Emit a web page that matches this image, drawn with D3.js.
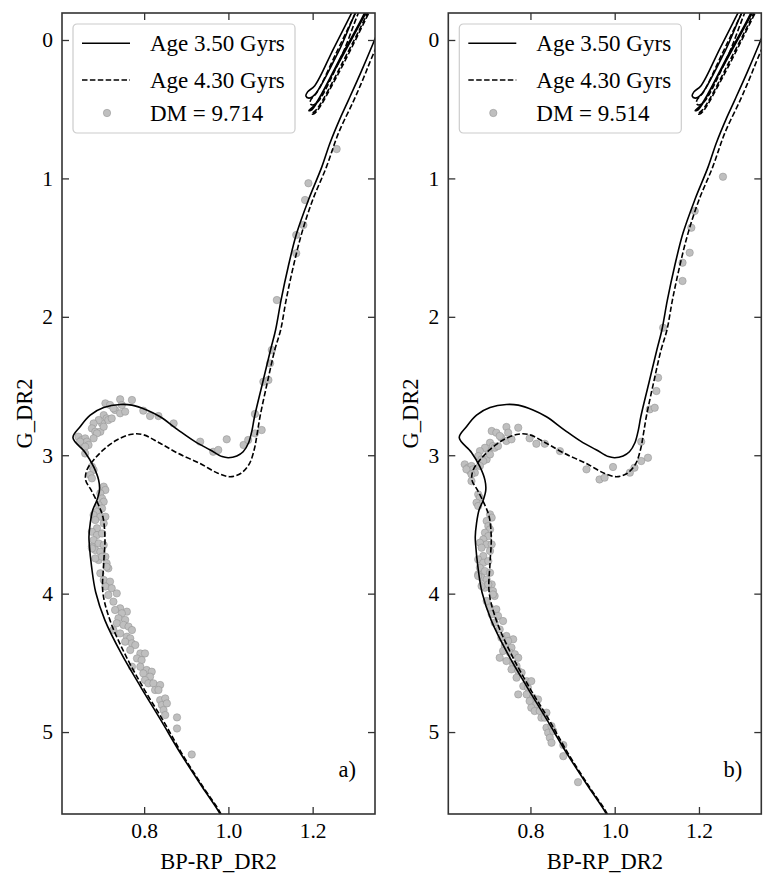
<!DOCTYPE html>
<html>
<head>
<meta charset="utf-8">
<script src="https://cdn.jsdelivr.net/npm/d3@7/dist/d3.min.js"></script>
<style>
body { margin: 0; background: #fff; }
text { font-family: "Liberation Serif", "Times New Roman", serif; fill: #000; }
</style>
</head>
<body>
<svg id="fig" width="775" height="887"></svg>
<script>
// isochrones, [BP-RP, G] in absolute magnitudes
var iso350 = [[0.995,5.70],[0.980,5.59],[0.938,5.397],[0.887,5.157],[0.840,4.916],[0.792,4.675],[0.746,4.434],[0.707,4.193],[0.685,3.99],
  [0.675,3.80],[0.670,3.65],[0.669,3.589],[0.672,3.492],[0.678,3.396],[0.688,3.324],[0.694,3.251],[0.692,3.18],[0.680,3.083],[0.660,2.98],
  [0.631,2.873],[0.648,2.794],[0.672,2.710],[0.704,2.656],[0.743,2.633],[0.771,2.638],[0.806,2.673],[0.838,2.722],[0.881,2.818],[0.920,2.90],
  [0.957,2.962],[0.985,3.010],[1.000,3.018],[1.020,3.005],[1.035,2.975],[1.048,2.91],[1.056,2.82],[1.062,2.722],[1.081,2.48],[1.100,2.24],
  [1.112,2.095],[1.125,1.879],[1.142,1.638],[1.162,1.397],[1.190,1.156],[1.222,0.915],[1.241,0.746],[1.267,0.554],[1.285,0.434],[1.315,0.23],
  [1.342,0.036],[1.38,-0.25]];
var iso350hb = [[1.310,-0.30],[1.250,0.06],[1.205,0.33],[1.188,0.375],[1.184,0.405],[1.191,0.42],[1.205,0.395],[1.262,0.08],[1.322,-0.30],
  [1.335,-0.30],[1.262,0.15],[1.205,0.47],[1.191,0.51],[1.198,0.505],[1.252,0.22],[1.345,-0.30]];
var iso430 = [[0.995,5.70],[0.982,5.59],[0.940,5.397],[0.890,5.157],[0.845,4.916],[0.797,4.675],[0.754,4.434],[0.719,4.193],[0.702,3.99],
  [0.704,3.78],[0.707,3.60],[0.702,3.444],[0.690,3.348],[0.674,3.251],[0.661,3.179],[0.664,3.107],[0.680,3.035],[0.703,2.962],[0.735,2.890],
  [0.771,2.848],[0.798,2.852],[0.838,2.914],[0.881,2.987],[0.933,3.06],[0.975,3.13],[1.004,3.155],[1.030,3.13],[1.050,3.06],[1.062,2.95],
  [1.068,2.85],[1.075,2.722],[1.092,2.48],[1.110,2.24],[1.124,2.095],[1.137,1.879],[1.154,1.638],[1.174,1.397],[1.200,1.156],[1.233,0.915],
  [1.261,0.675],[1.298,0.434],[1.320,0.28],[1.340,0.13],[1.38,-0.15]];
var iso430hb = [[1.318,-0.30],[1.255,0.10],[1.210,0.38],[1.196,0.43],[1.194,0.46],[1.200,0.47],[1.214,0.44],[1.268,0.12],[1.328,-0.30],
  [1.340,-0.30],[1.268,0.18],[1.210,0.50],[1.197,0.535],[1.205,0.53],[1.258,0.26],[1.350,-0.30]];

// cluster stars, G_DR2 given at DM = 9.714
var starBpRp = [0.708,0.719,0.743,0.771,0.747,0.731,0.743,0.755,0.727,0.798,0.814,0.834,0.870,0.704,0.711,0.700,0.692,0.680,0.676,0.684,
  0.696,0.688,0.680,0.704,0.715,0.723,0.644,0.652,0.660,0.656,0.664,0.668,0.648,0.660,0.660,0.676,0.680,0.672,0.676,0.704,
  0.708,0.696,0.700,0.704,0.692,0.700,0.688,0.680,0.696,0.708,0.684,0.704,0.688,0.676,0.688,0.700,0.680,0.692,0.704,0.676,
  0.684,0.696,0.708,0.692,0.711,0.715,0.696,0.704,0.719,0.708,0.723,0.735,0.715,0.727,0.743,0.731,0.759,0.747,0.739,0.755,
  0.735,0.751,0.763,0.771,0.727,0.743,0.759,0.767,0.676,0.684,0.711,0.700,0.755,0.771,0.779,0.767,0.791,0.802,0.783,0.794,
  0.771,0.791,0.806,0.818,0.798,0.814,0.802,0.810,0.822,0.838,0.826,0.834,0.838,0.850,0.842,0.854,0.846,0.850,0.878,0.878,
  0.913,0.933,0.964,0.976,0.996,1.036,1.047,1.063,1.079,1.063,1.083,1.095,1.099,1.103,1.115,1.161,1.161,1.178,1.182,1.190,1.257];
var starG = [2.625,2.637,2.596,2.601,2.637,2.673,2.697,2.685,2.661,2.678,2.717,2.717,2.770,2.710,2.734,2.770,2.746,2.770,2.806,2.830,
  2.830,2.842,2.878,2.794,2.746,2.734,2.866,2.890,2.878,2.914,2.902,2.926,2.902,2.938,2.987,3.083,3.107,3.143,3.167,3.227,
  3.251,3.275,3.312,3.336,3.360,3.384,3.408,3.432,3.444,3.444,3.468,3.492,3.528,3.553,3.577,3.565,3.613,3.637,3.649,3.661,
  3.685,3.697,3.733,3.757,3.781,3.817,3.853,3.901,3.913,3.949,3.961,3.998,4.010,4.058,4.106,4.118,4.130,4.142,4.178,4.190,
  4.214,4.226,4.238,4.263,4.263,4.287,4.311,4.323,3.673,3.745,3.806,3.733,4.347,4.359,4.371,4.407,4.432,4.432,4.468,4.480,
  4.528,4.528,4.552,4.564,4.576,4.600,4.624,4.648,4.648,4.660,4.696,4.696,4.769,4.757,4.805,4.793,4.841,4.877,4.894,4.974,
  5.162,2.902,2.975,2.962,2.885,2.926,2.890,2.842,2.818,2.702,2.469,2.457,2.336,2.240,1.879,1.541,1.409,1.337,1.156,1.035,0.788];
var dmRef = 9.714;

var panelNames = ["a)", "b)"];
var dmValues = [9.714, 9.514];
var ageLabels = ["Age 3.50 Gyrs", "Age 4.30 Gyrs"];
var xTicks = [0.8, 1.0, 1.2];
var yTicks = [0, 1, 2, 3, 4, 5];

var W = 313, H = 801, top0 = 13;
var lefts = [62, 448.3];
var dash = "5.5,2.4";

var svg = d3.select("#fig");
var x = d3.scaleLinear().domain([0.605, 1.348]).range([0, W]);
var y = d3.scaleLinear().domain([-0.195, 5.592]).range([0, H]);
var line = d3.line()
    .x(function(d) { return x(d[0]); })
    .y(function(d) { return y(d[1]); })
    .curve(d3.curveCatmullRom.alpha(0.5));

var stars = starBpRp.map(function(c, i) { return [c, starG[i]]; });

panelNames.forEach(function(name, p) {
  var g = svg.append("g").attr("transform", "translate(" + lefts[p] + "," + top0 + ")");

  g.append("clipPath").attr("id", "clip" + p)
    .append("rect").attr("width", W).attr("height", H);

  var plot = g.append("g").attr("clip-path", "url(#clip" + p + ")");

  // stars shifted to this panel's distance modulus
  var shift = dmRef - dmValues[p];
  plot.selectAll("circle.star")
    .data(stars)
  .enter().append("circle")
    .attr("class", "star")
    .attr("cx", function(d) { return x(d[0]); })
    .attr("cy", function(d) { return y(d[1] + shift); })
    .attr("r", 3.7)
    .style("fill", "#bfbfbf")
    .style("stroke", "#8f8f8f")
    .style("stroke-width", 0.5);

  [[iso350, null], [iso350hb, null], [iso430, dash], [iso430hb, dash]].forEach(function(s) {
    plot.append("path")
      .attr("d", line(s[0]))
      .style("fill", "none")
      .style("stroke", "#000")
      .style("stroke-width", 1.6)
      .style("stroke-dasharray", s[1]);
  });

  // axes, ticks inward on all four sides
  var ax = [
    d3.axisBottom(x).tickValues(xTicks).tickFormat(d3.format(".1f")),
    d3.axisTop(x).tickValues(xTicks).tickFormat(""),
    d3.axisLeft(y).tickValues(yTicks).tickFormat(d3.format("d")),
    d3.axisRight(y).tickValues(yTicks).tickFormat("")
  ];
  var tr = ["translate(0," + H + ")", null, null, "translate(" + W + ",0)"];
  ax.forEach(function(a, k) {
    var ag = g.append("g").attr("transform", tr[k])
      .call(a.tickSize(-7).tickSizeOuter(0).tickPadding(9));
    ag.select(".domain").remove();
    ag.selectAll(".tick line").style("stroke", "#333").style("stroke-width", 1.3);
    ag.selectAll(".tick text")
      .style("font-family", "Liberation Serif, serif")
      .style("font-size", "21.5px")
      .style("fill", "#000");
  });

  g.append("rect")
    .attr("width", W).attr("height", H)
    .style("fill", "none").style("stroke", "#333").style("stroke-width", 1.6);

  g.append("text")
    .attr("x", W / 2).attr("y", H + 55)
    .attr("text-anchor", "middle")
    .style("font-size", "22.5px")
    .text("BP-RP_DR2");

  g.append("text")
    .attr("transform", "translate(-30," + (H / 2) + ") rotate(-90)")
    .attr("text-anchor", "middle")
    .style("font-size", "22.5px")
    .text("G_DR2");

  g.append("text")
    .attr("x", 294).attr("y", 764)
    .attr("text-anchor", "end")
    .style("font-size", "22.5px")
    .text(name);

  // legend
  var lg = g.append("g").attr("transform", "translate(11,11)");
  lg.append("rect")
    .attr("width", 222).attr("height", 109).attr("rx", 4)
    .style("fill", "#fff").style("fill-opacity", 0.8)
    .style("stroke", "#cccccc").style("stroke-width", 1.2);
  var rows = [19.3, 56, 89];
  ageLabels.forEach(function(lab, k) {
    lg.append("line")
      .attr("x1", 9).attr("x2", 57).attr("y1", rows[k]).attr("y2", rows[k])
      .style("stroke", "#000").style("stroke-width", 1.6)
      .style("stroke-dasharray", k == 1 ? dash : null);
    lg.append("text")
      .attr("x", 77).attr("y", rows[k] + 7.5)
      .style("font-size", "23px")
      .text(lab);
  });
  lg.append("circle")
    .attr("cx", 34).attr("cy", rows[2]).attr("r", 3.7)
    .style("fill", "#bfbfbf").style("stroke", "#8f8f8f").style("stroke-width", 0.5);
  lg.append("text")
    .attr("x", 77).attr("y", rows[2] + 7.5)
    .style("font-size", "23px")
    .text("DM = " + d3.format(".3f")(dmValues[p]));
});
</script>
</body>
</html>
